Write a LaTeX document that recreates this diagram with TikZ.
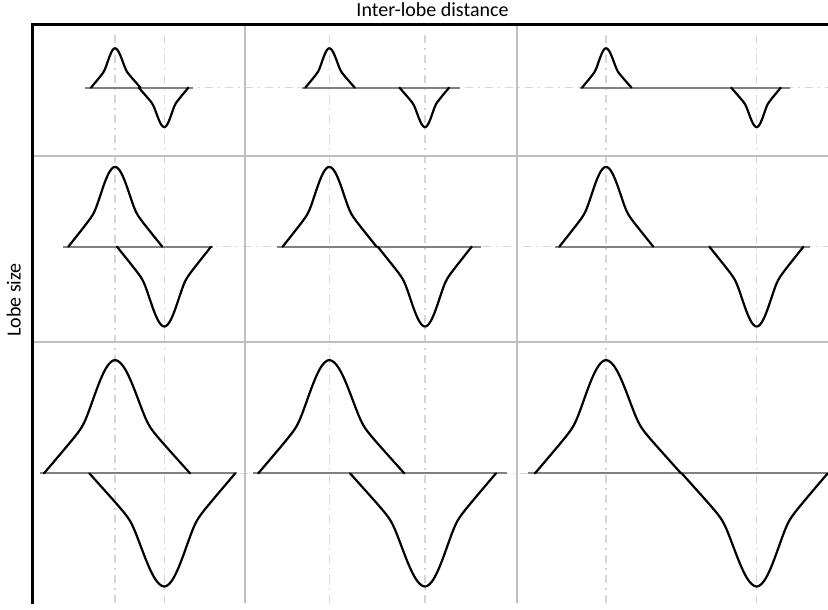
\documentclass[tikz,border=0pt]{standalone}
\usepackage{fontspec}
\setmainfont{Carlito}
\tikzset{
  gridline/.style={line width=1.6pt, draw={rgb,255:red,191;green,191;blue,191}},
  frameline/.style={line width=2.4pt, draw=black},
  guide/.style={line width=1.4pt, draw={rgb,255:red,214;green,214;blue,214}, dash pattern=on 8pt off 5pt on 2pt off 5pt},
  baseln/.style={line width=2pt, draw={rgb,255:red,128;green,128;blue,128}},
  lobecurve/.style={line width=2.2pt, draw=black, line join=round, line cap=round},
  lbl/.style={font=\fontsize{20}{24}\selectfont, inner sep=0pt}
}
% f(x): lobe profile, 1 at centre, 0 at |x|=1 (smoothed max of a linear tail and a gaussian)
\pgfmathdeclarefunction{lobef}{1}{%
  \begingroup
  \pgfmathsetmacro\lobL{0.74*(1-abs(#1))}%
  \pgfmathsetmacro\lobG{(exp(-(#1)*(#1)/0.225)-0.0118)/0.9882}%
  \pgfmathsetmacro\lobE{0.012*(1-abs(#1))*(1-abs(#1))}%
  \pgfmathparse{(\lobL+\lobG+sqrt((\lobL-\lobG)*(\lobL-\lobG)+\lobE))/2}%
  \pgfmathsmuggle\pgfmathresult
  \endgroup
}
% \mylobe{cx}{baseline}{amp}{left hw}{right hw}{sign}
\newcommand{\mylobe}[6]{%
  \draw[lobecurve] plot[smooth, domain=-1:0, samples=31] ({#1+\x*#4}, {#2-#6*#3*lobef(\x)})
    -- plot[smooth, domain=0:1, samples=31] ({#1+\x*#5}, {#2-#6*#3*lobef(\x)});
}
\begin{document}
\begin{tikzpicture}[x=1pt, y=-1pt]
\useasboundingbox (0,0) rectangle (828,610);
% vertical guides
\foreach \gx in {115,164.3,329.3,425,606,756.7}
  \draw[guide] (\gx,35) -- (\gx,603);
% horizontal guides
\draw[guide] (85,87.7) -- (828,87.7);
\draw[guide] (63.3,246.7) -- (828,246.7);
\draw[guide] (40,473.3) -- (828,473.3);
% grid
\draw[gridline] (245,25) -- (245,603);
\draw[gridline] (517,25) -- (517,603);
\draw[gridline] (33,155.7) -- (828,155.7);
\draw[gridline] (33,342) -- (828,342);
% baselines
\draw[baseln] (85,87.7) -- (193,87.7);
\draw[baseln] (301.7,87.7) -- (460,87.7);
\draw[baseln] (580,87.7) -- (790,87.7);
\draw[baseln] (63.3,246.7) -- (213.3,246.7);
\draw[baseln] (277,246.7) -- (481,246.7);
\draw[baseln] (555,246.7) -- (810,246.7);
\draw[baseln] (40,473.3) -- (237,473.3);
\draw[baseln] (253.3,473.3) -- (506.7,473.3);
\draw[baseln] (528,473.3) -- (828,473.3);
% lobes row 1
\mylobe{115}{87.7}{39}{24}{25.5}{1}
\mylobe{164.3}{87.7}{39}{25.5}{24}{-1}
\mylobe{329.3}{87.7}{39}{24}{25.5}{1}
\mylobe{425}{87.7}{39}{25.5}{24}{-1}
\mylobe{606}{87.7}{39}{24}{25.5}{1}
\mylobe{756.7}{87.7}{39}{25.5}{24}{-1}
% lobes row 2
\mylobe{115}{246.7}{79}{46.7}{47.3}{1}
\mylobe{164.3}{246.7}{79}{47.3}{46.7}{-1}
\mylobe{329.3}{246.7}{79}{46.7}{47.3}{1}
\mylobe{425}{246.7}{79}{47.3}{46.7}{-1}
\mylobe{606}{246.7}{79}{46.7}{47.3}{1}
\mylobe{756.7}{246.7}{79}{47.3}{46.7}{-1}
% lobes row 3
\mylobe{115}{473.3}{112}{71}{75}{1}
\mylobe{164.3}{473.3}{112}{75}{71}{-1}
\mylobe{329.3}{473.3}{112}{71}{75}{1}
\mylobe{425}{473.3}{112}{75}{71}{-1}
\mylobe{606}{473.3}{112}{71}{75}{1}
\mylobe{756.7}{473.3}{112}{75}{71}{-1}
% frame
\draw[frameline] (32.5,604) -- (32.5,24.5) -- (828,24.5);
% labels
\node[lbl, anchor=base] (xlab) at (432.5,16.5) {Inter-lobe distance};
\node[lbl, anchor=base, rotate=90] (ylab) at (20.5,300) {Lobe size};
\end{tikzpicture}
\end{document}
